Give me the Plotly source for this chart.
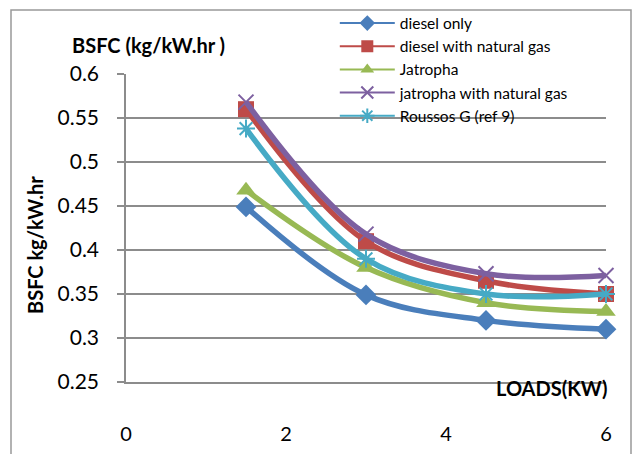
import plotly.graph_objects as go

loads = [1.5, 3, 4.5, 6]
diesel_only = [0.449, 0.349, 0.320, 0.310]
diesel_ng = [0.560, 0.410, 0.365, 0.350]
jatropha = [0.468, 0.380, 0.340, 0.330]
jatropha_ng = [0.568, 0.418, 0.373, 0.371]
roussos = [0.538, 0.390, 0.350, 0.350]

series = [
    ("diesel only", diesel_only, "#4A7EBB", "diamond", 16, 0),
    ("diesel with natural gas", diesel_ng, "#BE4B48", "square", 16, 0),
    ("Jatropha", jatropha, "#98B954", "triangle-up", 17, 0),
    ("jatropha with natural gas", jatropha_ng, "#7D60A0", "x-thin-open", 15, 2),
    ("Roussos G (ref 9)", roussos, "#46AAC5", "asterisk-open", 15, 2),
]

fig = go.Figure()
for name, ys, col, sym, sz, lw in series:
    fig.add_trace(go.Scatter(
        x=loads, y=ys, mode="lines+markers", name=name, showlegend=False,
        line=dict(color=col, width=5.5, shape="spline", smoothing=1.0),
        marker=dict(symbol=sym, size=sz, color=col, line=dict(color=col, width=lw)),
        cliponaxis=False,
    ))
for name, ys, col, sym, sz, lw in series:
    fig.add_trace(go.Scatter(
        x=[None], y=[None], mode="lines+markers", name=name, showlegend=True,
        line=dict(color=col, width=2),
        marker=dict(symbol=sym, size=12, color=col, line=dict(color=col, width=lw)),
    ))

grid = "#8c8c8c"
fig.update_layout(
    width=633, height=454,
    margin=dict(l=126, r=27, t=74, b=72, autoexpand=False),
    paper_bgcolor="white", plot_bgcolor="white",
    font=dict(family="Lato", color="black"),
    showlegend=True,
    legend=dict(
        x=0.435, y=1.219, xanchor="left", yanchor="top",
        bgcolor="rgba(0,0,0,0)", borderwidth=0,
        font=dict(family="Lato", size=15.5, color="black"),
        itemwidth=55, tracegroupgap=0,
    ),
    xaxis=dict(
        range=[0, 6], tickvals=[0, 2, 4, 6], showgrid=False, zeroline=False,
        showline=True, linecolor=grid, linewidth=1.5,
        ticks="", tickfont=dict(size=20, family="Lato"),
        ticklabelstandoff=33,
    ),
    yaxis=dict(
        range=[0.25, 0.6], tickvals=[0.25, 0.3, 0.35, 0.4, 0.45, 0.5, 0.55, 0.6],
        ticktext=["0.25", "0.3", "0.35", "0.4", "0.45", "0.5", "0.55", "0.6"],
        showgrid=True, gridcolor=grid, gridwidth=1.5, zeroline=False,
        showline=True, linecolor=grid, linewidth=1.5,
        ticks="outside", ticklen=7, tickcolor=grid, tickwidth=1.5,
        tickfont=dict(size=21, family="Lato"),
        ticklabelstandoff=14,
    ),
    shapes=[dict(
        type="rect", xref="paper", yref="paper",
        x0=(11 - 126) / 480, x1=(631 - 126) / 480,
        y0=(382 - 470) / 308, y1=(382 - 10) / 308,
        line=dict(color="#999999", width=1.5), layer="below",
    )],
    annotations=[
        dict(text="<b>BSFC (kg/kW.hr )</b>", xref="paper", yref="paper",
             x=(70 - 126) / 480, y=(382 - 45) / 308, xanchor="left", yanchor="middle",
             showarrow=False, font=dict(size=20, family="Lato")),
        dict(text="<b>LOADS(KW)</b>", xref="paper", yref="paper",
             x=(609 - 126) / 480, y=(382 - 388) / 308, xanchor="right", yanchor="middle",
             showarrow=False, font=dict(size=20, family="Lato")),
        dict(text="<b>BSFC kg/kW.hr</b>", xref="paper", yref="paper",
             x=(35 - 126) / 480, y=(382 - 245) / 308, xanchor="center", yanchor="middle",
             textangle=-90, showarrow=False, font=dict(size=20, family="Lato")),
    ],
)

fig.write_html("out.html")
